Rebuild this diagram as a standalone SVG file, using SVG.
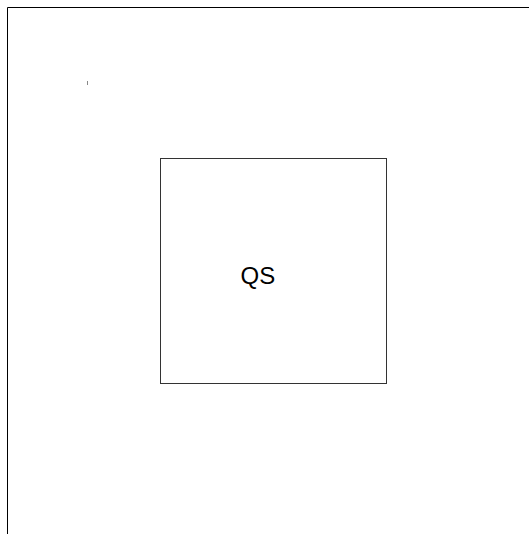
<svg xmlns="http://www.w3.org/2000/svg" width="529" height="534" viewBox="0 0 529 534">
<style>
.frame{fill:none;stroke:#000;stroke-width:1}
.node{fill:#fff;stroke:#333;stroke-width:1}
.lbl{font-family:"Liberation Sans",Arial,sans-serif;font-size:24px;fill:#000}
</style>
<rect width="529" height="534" fill="#fff"/>
<path class="frame" d="M7.5,534 V7.5 H529"/>
<rect x="87" y="81" width="1" height="4" fill="#888"/>
<g id="connectors"></g>
<g id="QS">
<rect class="node" x="160.5" y="158.5" width="226" height="225"/>
<text class="lbl" x="240.5" y="284">QS</text>
</g>
</svg>
